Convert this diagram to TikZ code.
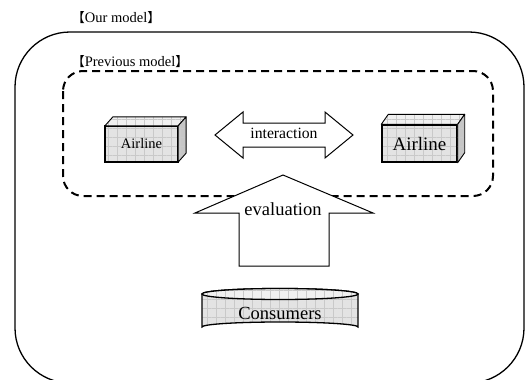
\documentclass[tikz,border=0pt]{standalone}
\usepackage{fontspec}
\setmainfont{Liberation Serif}
\newfontfamily\cjk{Noto Sans CJK JP}
\usetikzlibrary{patterns.meta,calc}
\newcommand\lbr{{\kern-.5em\cjk\fontsize{13}{16}\selectfont【}}
\newcommand\rbr{{\cjk\fontsize{13}{16}\selectfont】\kern-.5em}}
\tikzset{
  gridfill/.style={preaction={fill=#1}, pattern={Hatch[distance=9pt,angle=0,line width=0.25pt]}, pattern color=gray!42},
  gridfill/.default=gray!22,
  front/.style={draw, line width=1.4pt, gridfill, inner sep=0pt},
  face/.style={draw, line width=0.9pt, line join=round},
  bigarrow/.style={draw, fill=white, line width=1pt, line join=miter},
  caption/.style={inner sep=0pt, font=\fontsize{14.5}{17}\selectfont}
}

\begin{document}
\begin{tikzpicture}[x=1pt, y=-1pt]
        \useasboundingbox (0,0) rectangle (525,380);
        \clip (0,0) rectangle (525,380);

        % outer and inner frames
        \draw[line width=1.3pt, rounded corners=55pt] (15,32) rectangle (524,383);
        \draw[line width=2pt, dash pattern=on 8pt off 5pt, rounded corners=20pt] (63,71) rectangle (493,196);
        \node[caption] (our) at (116.5,18) {\lbr Our model\rbr};
        \node[caption] (prev) at (130.5,62) {\lbr Previous model\rbr};

        % airlines
        \node[front, minimum width=73pt, minimum height=36pt, font=\fontsize{14.5}{17}\selectfont] (a1) at (141.5,144) {Airline};
        \draw[face, gridfill=gray!12] (a1.north west) -- ++(8,-9) -- ([shift={(8,-9)}]a1.north east) -- (a1.north east) -- cycle;
        \draw[face, gridfill=gray!45] (a1.north east) -- ++(8,-9) -- ([shift={(8,-9)}]a1.south east) -- (a1.south east) -- cycle;
        \node[front, minimum width=75pt, minimum height=37pt, font=\fontsize{19}{22}\selectfont] (a2) at (419.5,143.5) {Airline};
        \draw[face, gridfill=gray!12] (a2.north west) -- ++(7,-10) -- ([shift={(7,-10)}]a2.north east) -- (a2.north east) -- cycle;
        \draw[face, gridfill=gray!45] (a2.north east) -- ++(7,-10) -- ([shift={(7,-10)}]a2.south east) -- (a2.south east) -- cycle;

        % interaction
        \draw[bigarrow] (215,135) -- (243,112) -- (243,123) -- (325,123) -- (325,112) -- (353,135)
          -- (325,158) -- (325,147) -- (243,147) -- (243,158) -- cycle;
        \node[inner sep=0pt, anchor=base, font=\fontsize{15.7}{18}\selectfont] (inter) at (284,138) {interaction};

        % evaluation
        \draw[bigarrow] (283,175) -- (373,213) -- (329,213) -- (329,266) -- (239,266) -- (239,213) -- (195,213) -- cycle;
        \node[inner sep=0pt, anchor=base, font=\fontsize{18.5}{21}\selectfont] (eval) at (283,215) {evaluation};

        % consumers
        \draw[line width=1.3pt, gridfill] (202,294) -- (202,327) arc[start angle=180, end angle=0, x radius=78pt, y radius=5pt]
          -- (358,294) arc[start angle=0, end angle=180, x radius=78pt, y radius=5.5pt] -- cycle;
        \draw[line width=1.3pt, gridfill=gray!12] (280,294) ellipse[x radius=78pt, y radius=5.5pt];
        \node[inner sep=0pt, font=\fontsize{18.5}{21}\selectfont] (cons) at (280,313) {Consumers};
\end{tikzpicture}
\end{document}
